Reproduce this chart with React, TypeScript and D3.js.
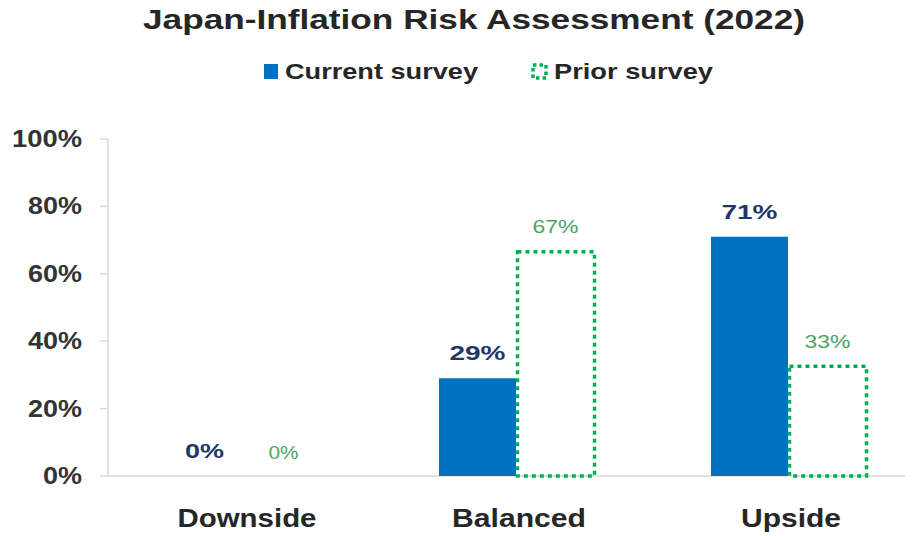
import React from "react";
import * as d3 from "d3";

const categories = ["Downside", "Balanced", "Upside"];
const currentSurvey = [0, 29, 71];
const priorSurvey = [0, 67, 33];
const yTicks = [0, 20, 40, 60, 80, 100];

const W = 912;
const H = 536;
const margin = { left: 108, top: 139 };
const baseY = 476;

// the reference uses a wide, heavy face; stretch text to its measured widths
const catWidths = [139, 134, 100];
const tickWidth = (t: number) => (t === 100 ? 70 : t === 0 ? 39 : 54);
const curLabelWidth = (v: number) => (v === 0 ? 39 : 56);
const priLabelWidth = (v: number) => (v === 0 ? 30 : 46);

const App = () => {
  const x = d3.scaleBand().domain(categories).range([margin.left, margin.left + 272 * 3]);
  const y = d3.scaleLinear().domain([0, 100]).range([baseY, margin.top]);
  const barW = 77;
  const font = "'Liberation Sans', Arial, sans-serif";
  const fit = "spacingAndGlyphs";

  return (
    <div style={{ position: "absolute", left: 0, top: 0 }}>
      <svg width={W} height={H} style={{ display: "block", background: "#fff" }} fontFamily={font}>
        <text x={143} y={29} fontSize={27} fontWeight="bold" fill="#262626" textLength={662} lengthAdjust={fit}>
          Japan-Inflation Risk Assessment (2022)
        </text>

        {/* legend */}
        <rect x={264} y={64} width={14} height={15} fill="#0070c0" />
        <text x={285} y={79} fontSize={22} fontWeight="bold" fill="#262626" textLength={193} lengthAdjust={fit}>
          Current survey
        </text>
        <rect x={533} y={65} width={13} height={13} fill="none" stroke="#00b050" strokeWidth={3.5} strokeDasharray="3.5 3" />
        <text x={554} y={79} fontSize={22} fontWeight="bold" fill="#262626" textLength={159} lengthAdjust={fit}>
          Prior survey
        </text>

        {/* y axis */}
        <line x1={margin.left} x2={margin.left} y1={y(100)} y2={baseY} stroke="#d9d9d9" strokeWidth={1.5} />
        {yTicks.map((t) => (
          <g key={t}>
            <line x1={margin.left - 8} x2={margin.left} y1={y(t)} y2={y(t)} stroke="#d9d9d9" strokeWidth={1.5} />
            <text
              x={82 - tickWidth(t)}
              y={y(t) + 8}
              fontSize={23}
              fontWeight="bold"
              fill="#333"
              textLength={tickWidth(t)}
              lengthAdjust={fit}
            >
              {t}%
            </text>
          </g>
        ))}
        <line x1={margin.left} x2={905} y1={baseY} y2={baseY} stroke="#d9d9d9" strokeWidth={1.5} />

        {categories.map((c, i) => {
          const cx = (x(c) as number) + x.bandwidth() / 2;
          const cur = currentSurvey[i];
          const pri = priorSurvey[i];
          const cw = curLabelWidth(cur);
          const pw = priLabelWidth(pri);
          return (
            <g key={c}>
              {cur > 0 && (
                <rect x={cx - barW} y={y(cur)} width={barW} height={baseY - y(cur)} fill="#0070c0" />
              )}
              {pri > 0 && (
                <rect
                  x={cx + 1.5}
                  y={y(pri) + 1.5}
                  width={barW}
                  height={baseY - y(pri) - 1.5}
                  fill="none"
                  stroke="#00b050"
                  strokeWidth={3.5}
                  strokeDasharray="4 4"
                />
              )}
              <text
                x={cx - barW / 2 - (cur === 0 ? 1 : 0) - cw / 2}
                y={y(cur) - 18}
                fontSize={21}
                fontWeight="bold"
                fill="#1f3864"
                textLength={cw}
                lengthAdjust={fit}
              >
                {cur}%
              </text>
              <text
                x={cx + barW / 2 + 1 - pw / 2}
                y={y(pri) - 17}
                fontSize={19}
                fill="#4ea35f"
                textLength={pw}
                lengthAdjust={fit}
              >
                {pri}%
              </text>
              <text
                x={cx - catWidths[i] / 2 + 3}
                y={527}
                fontSize={25}
                fontWeight="bold"
                fill="#262626"
                textLength={catWidths[i]}
                lengthAdjust={fit}
              >
                {c}
              </text>
            </g>
          );
        })}
      </svg>
    </div>
  );
};

export default App;
